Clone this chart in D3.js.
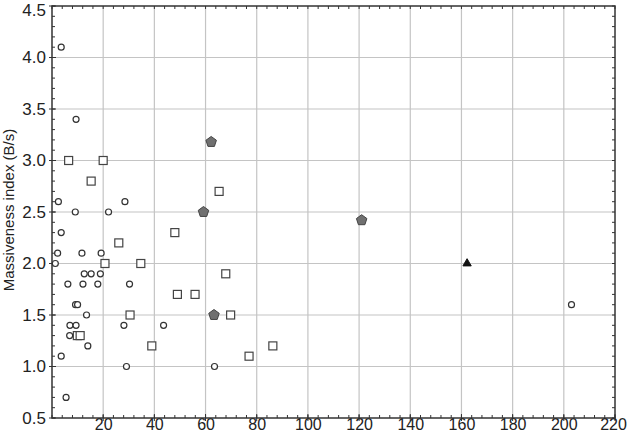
<!DOCTYPE html>
<html><head><meta charset="utf-8">
<script src="https://cdn.jsdelivr.net/npm/d3@7"></script>
<style>body{margin:0;background:#fff}svg{display:block}</style>
</head><body><svg id="c" width="628" height="435"></svg>
<script>
const xTicks = [20,40,60,80,100,120,140,160,180,200,220];
const yTicks = [0.5,1.0,1.5,2.0,2.5,3.0,3.5,4.0,4.5];
const circleX = [3.6, 9.4, 2.5, 9.1, 22.1, 28.5, 3.6, 2.2, 11.7, 19.2, 1.3, 12.6, 15.3, 18.9, 6.2, 12.1, 17.9, 30.3, 9.2, 10.0, 13.5, 7.0, 9.4, 28.1, 43.6, 6.9, 14.0, 3.6, 5.5, 29.1, 63.5, 203];
const circleY = [4.1, 3.4, 2.6, 2.5, 2.5, 2.6, 2.3, 2.1, 2.1, 2.1, 2.0, 1.9, 1.9, 1.9, 1.8, 1.8, 1.8, 1.8, 1.6, 1.6, 1.5, 1.4, 1.4, 1.4, 1.4, 1.3, 1.2, 1.1, 0.7, 1.0, 1.0, 1.6];
const squareX = [6.5, 20, 15.3, 26.1, 20.7, 34.7, 30.5, 9.9, 11.0, 39, 65.3, 48, 67.9, 49, 55.9, 69.8, 77, 86.3];
const squareY = [3.0, 3.0, 2.8, 2.2, 2.0, 2.0, 1.5, 1.3, 1.3, 1.2, 2.7, 2.3, 1.9, 1.7, 1.7, 1.5, 1.1, 1.2];
const pentX = [62.2, 59.2, 63.3, 121];
const pentY = [3.18, 2.5, 1.5, 2.42];
const triX = [162.2];
const triY = [2.0];
const yLabel = "Massiveness index (B/s)";

const svg = d3.select("#c");
const L=52, R=615, T=6, B=418;
const x = d3.scaleLinear().domain([0,220]).range([L,R]);
const y = d3.scaleLinear().domain([0.5,4.5]).range([B,T]);

// grid
const g = svg.append("g");
g.selectAll("line.gx").data(xTicks.filter(v=>v<220)).enter().append("line")
  .attr("x1",d=>x(d)).attr("x2",d=>x(d)).attr("y1",T).attr("y2",B)
  .attr("stroke","#c4c4c4").attr("stroke-width",1.2);
g.selectAll("line.gy").data(yTicks.filter(v=>v>0.5&&v<4.5)).enter().append("line")
  .attr("x1",L).attr("x2",R).attr("y1",d=>y(d)).attr("y2",d=>y(d))
  .attr("stroke","#c4c4c4").attr("stroke-width",1.2);

// minor ticks
const minorX = d3.range(0,221,4);
const minorY = d3.range(0.5,4.51,0.1);
const tk = svg.append("g").attr("stroke","#333").attr("stroke-width",1);
minorX.forEach(v=>{
  tk.append("line").attr("x1",x(v)).attr("x2",x(v)).attr("y1",B).attr("y2",B-3);
  tk.append("line").attr("x1",x(v)).attr("x2",x(v)).attr("y1",T).attr("y2",T+3);
});
minorY.forEach(v=>{
  tk.append("line").attr("x1",L).attr("x2",L+3).attr("y1",y(v)).attr("y2",y(v));
  tk.append("line").attr("x1",R).attr("x2",R-3).attr("y1",y(v)).attr("y2",y(v));
});
xTicks.forEach(v=>{
  tk.append("line").attr("x1",x(v)).attr("x2",x(v)).attr("y1",B-4).attr("y2",B+3);
});
yTicks.forEach(v=>{
  tk.append("line").attr("x1",L-3).attr("x2",L+4).attr("y1",y(v)).attr("y2",y(v));
});

// axes labels via d3 axes (text only)
const xAxis = d3.axisBottom(x).tickValues(xTicks).tickSize(0).tickPadding(1);
const xa = svg.append("g").attr("transform",`translate(0,${B})`).call(xAxis);
xa.select(".domain").remove();
xa.selectAll("text").attr("font-family","Liberation Sans, Arial, sans-serif").attr("font-size",16).attr("fill","#222")
  .attr("dx",d=>d===220?-2:0);
const yAxis = d3.axisLeft(y).tickValues(yTicks).tickFormat(d3.format(".1f")).tickSize(0).tickPadding(6);
const ya = svg.append("g").attr("transform",`translate(${L},0)`).call(yAxis);
ya.select(".domain").remove();
ya.selectAll("text").attr("font-family","Liberation Sans, Arial, sans-serif").attr("font-size",17).attr("fill","#222")
  .attr("y",d=>d===4.5?4:0);

// frame
svg.append("rect").attr("x",L).attr("y",T).attr("width",R-L).attr("height",B-T)
  .attr("fill","none").attr("stroke","#333").attr("stroke-width",1.5);

svg.append("text").attr("transform",`translate(14,${(T+B)/2 - 2}) rotate(-90)`)
  .attr("text-anchor","middle").attr("font-family","Liberation Sans, Arial, sans-serif")
  .attr("font-size",15).attr("fill","#222").text(yLabel);

// points
const pts = svg.append("g");
pts.selectAll("rect.sq").data(squareX.map((v,i)=>[v,squareY[i]])).enter().append("rect")
  .attr("x",d=>x(d[0])-4).attr("y",d=>y(d[1])-4).attr("width",8).attr("height",8)
  .attr("fill","#fff").attr("stroke","#444").attr("stroke-width",1.2);
pts.selectAll("circle").data(circleX.map((v,i)=>[v,circleY[i]])).enter().append("circle")
  .attr("cx",d=>x(d[0])).attr("cy",d=>y(d[1])).attr("r",3)
  .attr("fill","#fff").attr("stroke","#333").attr("stroke-width",1.2);
function pentPath(r){
  const p=[];for(let k=0;k<5;k++){const a=-Math.PI/2+k*2*Math.PI/5;p.push([r*Math.cos(a),r*Math.sin(a)]);}
  return "M"+p.map(q=>q.join(",")).join("L")+"Z";
}
pts.selectAll("path.pt").data(pentX.map((v,i)=>[v,pentY[i]])).enter().append("path")
  .attr("transform",d=>`translate(${x(d[0])},${y(d[1])})`).attr("d",pentPath(5.5))
  .attr("fill","#707070").attr("stroke","#444").attr("stroke-width",1);
pts.selectAll("path.tr").data(triX.map((v,i)=>[v,triY[i]])).enter().append("path")
  .attr("transform",d=>`translate(${x(d[0])},${y(d[1])})`)
  .attr("d",d3.symbol().type(d3.symbolTriangle).size(30))
  .attr("fill","#111").attr("stroke","#111");
</script></body></html>
